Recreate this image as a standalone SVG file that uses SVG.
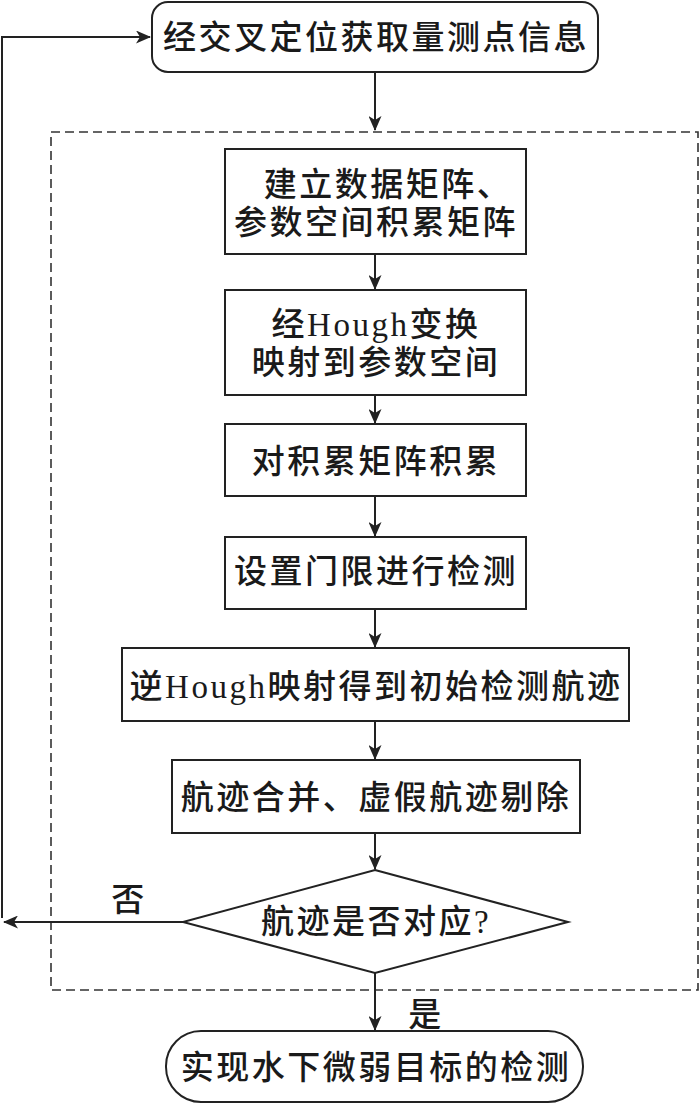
<svg xmlns="http://www.w3.org/2000/svg" width="700" height="1104" viewBox="0 0 700 1104">
<style>
.n{fill:#fff;stroke:#222;stroke-width:2}
.t{font-family:"Liberation Serif","Noto Sans CJK SC",serif;font-size:33px;font-weight:500;fill:#1a1a1a;text-anchor:middle;dominant-baseline:central;letter-spacing:2.5px}
.c{fill:none;stroke:#222;stroke-width:2}
.d{fill:none;stroke:#333;stroke-width:1.6;stroke-dasharray:9 5}
</style>
<defs>
<marker id="ah" viewBox="0 0 15 13" refX="14" refY="6.5" markerWidth="15" markerHeight="13" markerUnits="userSpaceOnUse" orient="auto">
<path d="M0,0 L15,6.5 L0,13 L4,6.5 Z" fill="#222"/>
</marker>
</defs>
<rect class="d" x="51" y="132" width="647" height="858"/>
<g id="connectors">
<line class="c" x1="375" y1="72" x2="375" y2="130" marker-end="url(#ah)"/>
<line class="c" x1="375" y1="254" x2="375" y2="289" marker-end="url(#ah)"/>
<line class="c" x1="375" y1="395" x2="375" y2="423" marker-end="url(#ah)"/>
<line class="c" x1="375" y1="496" x2="375" y2="536" marker-end="url(#ah)"/>
<line class="c" x1="375" y1="609" x2="375" y2="647" marker-end="url(#ah)"/>
<line class="c" x1="375" y1="721" x2="375" y2="759" marker-end="url(#ah)"/>
<line class="c" x1="375" y1="833" x2="375" y2="869" marker-end="url(#ah)"/>
<line class="c" x1="375" y1="973" x2="375" y2="1030" marker-end="url(#ah)"/>
<line class="c" x1="183" y1="922" x2="4" y2="922" marker-end="url(#ah)"/>
<polyline class="c" points="2,918 2,37 150,37" marker-end="url(#ah)"/>
<text class="t" x="129" y="900">否</text>
<text class="t" x="426" y="1015">是</text>
</g>
<g id="start">
<rect class="n" x="152" y="2" width="446" height="70" rx="16"/>
<text class="t" x="376" y="38">经交叉定位获取量测点信息</text>
</g>
<g id="n1">
<rect class="n" x="225" y="149" width="301" height="105"/>
<text class="t" x="388" y="185">建立数据矩阵、</text>
<text class="t" x="376" y="223">参数空间积累矩阵</text>
</g>
<g id="n2">
<rect class="n" x="225" y="290" width="301" height="105"/>
<text class="t" x="376" y="325">经Hough变换</text>
<text class="t" x="376" y="363">映射到参数空间</text>
</g>
<g id="n3">
<rect class="n" x="225" y="424" width="301" height="72"/>
<text class="t" x="376" y="462">对积累矩阵积累</text>
</g>
<g id="n4">
<rect class="n" x="225" y="537" width="301" height="72"/>
<text class="t" x="376" y="572">设置门限进行检测</text>
</g>
<g id="n5">
<rect class="n" x="122" y="648" width="507" height="73"/>
<text class="t" x="376" y="687">逆Hough映射得到初始检测航迹</text>
</g>
<g id="n6">
<rect class="n" x="172" y="760" width="408" height="73"/>
<text class="t" x="376" y="798">航迹合并、虚假航迹剔除</text>
</g>
<g id="decision">
<polygon class="n" points="375,870 568,922 375,973 183,922"/>
<text class="t" x="376" y="922">航迹是否对应?</text>
</g>
<g id="end">
<rect class="n" x="166" y="1031" width="417" height="71" rx="35"/>
<text class="t" x="376" y="1068">实现水下微弱目标的检测</text>
</g>
</svg>
